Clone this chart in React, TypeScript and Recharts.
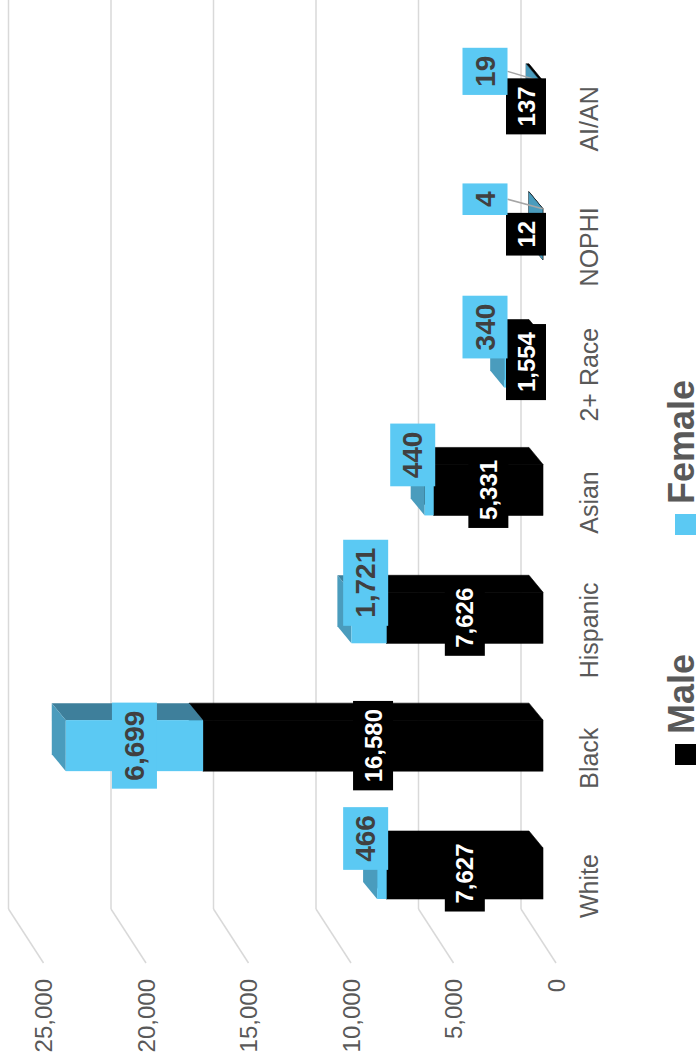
import React from 'react';
import { BarChart, Bar, XAxis, YAxis, CartesianGrid, Legend, LabelList } from 'recharts';

const categories = ['White', 'Black', 'Hispanic', 'Asian', '2+ Race', 'NOPHI', 'AI/AN'];
const maleValues = [7627, 16580, 7626, 5331, 1554, 12, 137];
const femaleValues = [466, 6699, 1721, 440, 340, 4, 19];
const valueTicks = [0, 5000, 10000, 15000, 20000, 25000];
const seriesNames = ['Male', 'Female'];

const data = categories.map((c, i) => ({ category: c, male: maleValues[i], female: femaleValues[i] }));

const W = 1063;
const H = 700;
const MARGIN = { top: 30.5, right: 42, bottom: 97, left: 66 };
const XAXIS_H = 60;
const YAXIS_W = 60;
const Y_MAX = 25000;
const PLOT_H = H - MARGIN.top - MARGIN.bottom - XAXIS_H;
const PPU = PLOT_H / Y_MAX;

const DX = 17;
const DY = 14;
const FONT = '"Liberation Sans", Arial, sans-serif';
const MALE = '#000000';
const FEMALE_FRONT = '#5BC9F3';
const FEMALE_TOP = '#4A9CBD';
const FEMALE_SIDE = '#3E7F9B';
const GRID = '#D9D9D9';
const TEXT = '#595959';
const LABEL_DARK = '#404040';

function Box3D(p: any) {
  const { x, y, width, height, front, top, side } = p;
  if (x == null || y == null) return null;
  const x2 = x + width;
  const y2 = y + height;
  const same = front === top && top === side;
  const sw = same ? 0.6 : 0;
  return (
    <g>
      <polygon points={`${x2},${y} ${x2 + DX},${y - DY} ${x2 + DX},${y2 - DY} ${x2},${y2}`} fill={side} stroke={side} strokeWidth={sw} />
      <polygon points={`${x},${y} ${x + DX},${y - DY} ${x2 + DX},${y - DY} ${x2},${y}`} fill={top} stroke={top} strokeWidth={sw} />
      <rect x={x} y={y} width={width} height={height} fill={front} stroke={front} strokeWidth={sw} />
    </g>
  );
}

const MaleShape = (p: any) => <Box3D {...p} front={MALE} top={MALE} side={MALE} />;
const FemaleShape = (p: any) => <Box3D {...p} front={FEMALE_FRONT} top={FEMALE_TOP} side={FEMALE_SIDE} />;

function textWidth(s: string, size: number) {
  let w = 0;
  for (const ch of s) w += ch === ',' ? 0.278 : 0.556;
  return w * size;
}

const fmt = (v: number) => Number(v).toLocaleString('en-US');

const renderLabels = (props: any) => {
  const vb = props.viewBox && props.viewBox.width != null ? props.viewBox : props;
  const { x, y, width, height } = vb;
  const i = props.index;
  if (x == null || i == null) return null;
  const f = femaleValues[i];
  const m = maleValues[i];
  const cx = x + width / 2;
  const maleTop = y + height;
  const base = maleTop + m * PPU;
  const maleH = m * PPU;

  // male label
  const mText = fmt(m);
  const mSize = 24;
  const mW = textWidth(mText, mSize) + 16;
  const mH = 40;
  const mCy = Math.min(maleTop + maleH / 2, base - 17);

  // female label
  const fText = fmt(f);
  const fSize = 28;
  const fW = textWidth(fText, fSize) + 16;
  const fH = 45;
  let fCy = Math.min(y + height / 2, maleTop - 21);
  fCy = Math.min(fCy, mCy - 41);
  const fCx = height >= fH ? cx : cx + 35;
  const needLeader = y - (fCy + fH / 2) > 20;

  return (
    <g key={`lbl-${i}`}>
      {needLeader && (
        <line x1={fCx} y1={fCy + fH / 2} x2={x + width} y2={y} stroke="#A6A6A6" strokeWidth={1.5} />
      )}
      <rect x={cx - mW / 2} y={mCy - mH / 2} width={mW} height={mH} fill={MALE} />
      <text x={cx} y={mCy} textAnchor="middle" dominantBaseline="central" fill="#FFFFFF" fontWeight={700} fontSize={mSize} fontFamily={FONT}>
        {mText}
      </text>
      <rect x={fCx - fW / 2} y={fCy - fH / 2} width={fW} height={fH} fill={FEMALE_FRONT} />
      <text x={fCx} y={fCy} textAnchor="middle" dominantBaseline="central" fill={LABEL_DARK} fontWeight={700} fontSize={fSize} fontFamily={FONT}>
        {fText}
      </text>
    </g>
  );
};

const renderGridLine = (props: any) => {
  const { x1, y1, index } = props;
  const yb = y1 - 22;
  const yf = y1 + 13;
  const backLeft = x1 + 28;
  const frontLeft = x1 - 26;
  return (
    <g key={`grid-${index}-${y1}`}>
      <line x1={backLeft} y1={yb} x2={W} y2={yb} stroke={GRID} strokeWidth={1.5} />
      <line x1={backLeft} y1={yb} x2={frontLeft} y2={yf} stroke={GRID} strokeWidth={1.5} />
    </g>
  );
};

const CategoryTick = (props: any) => {
  const { x, y, payload } = props;
  return (
    <text x={x - 13} y={y + 46} textAnchor="middle" dominantBaseline="central" fill={TEXT} fontSize={25} fontFamily={FONT}>
      {payload.value}
    </text>
  );
};

const ValueTick = (props: any) => {
  const { x, y, payload } = props;
  return (
    <text x={x - 42} y={y + 13} textAnchor="end" dominantBaseline="central" fill={TEXT} fontSize={24} fontFamily={FONT}>
      {fmt(payload.value)}
    </text>
  );
};

const LegendContent = () => {
  const colors = [MALE, FEMALE_FRONT];
  const starts = [0, 230];
  return (
    <div style={{ position: 'relative', width: 420, height: 40, fontFamily: FONT, fontWeight: 700, fontSize: 36, color: TEXT, lineHeight: '36px', whiteSpace: 'nowrap' }}>
      {seriesNames.map((n, i) => (
        <div key={n} style={{ position: 'absolute', left: starts[i], top: 0, height: 40 }}>
          <span style={{ position: 'absolute', left: 0, top: 15, width: 21, height: 21, background: colors[i] }} />
          <span style={{ position: 'absolute', left: 31, top: 4 }}>{n}</span>
        </div>
      ))}
    </div>
  );
};

export default function App() {
  return (
    <div style={{ position: 'absolute', left: 0, top: 0, width: 700, height: 1063, overflow: 'hidden', background: '#fff' }}>
      <div
        style={{
          position: 'absolute',
          left: 0,
          top: 0,
          width: W,
          height: H,
          transformOrigin: '0 0',
          transform: `translateY(${W}px) rotate(-90deg)`,
        }}
      >
        <BarChart width={W} height={H} data={data} margin={MARGIN} barSize={51} style={{ fontFamily: FONT }}>
          <CartesianGrid vertical={false} horizontal={renderGridLine} />
          <XAxis
            dataKey="category"
            axisLine={false}
            tickLine={false}
            tickSize={0}
            tickMargin={0}
            height={XAXIS_H}
            interval={0}
            tick={<CategoryTick />}
          />
          <YAxis
            domain={[0, Y_MAX]}
            ticks={valueTicks}
            axisLine={false}
            tickLine={false}
            tickSize={0}
            tickMargin={0}
            width={YAXIS_W}
            tick={<ValueTick />}
          />
          <Bar dataKey="male" stackId="a" name="Male" fill={MALE} shape={MaleShape} isAnimationActive={false} />
          <Bar dataKey="female" stackId="a" name="Female" fill={FEMALE_FRONT} shape={FemaleShape} isAnimationActive={false}>
            <LabelList dataKey="female" content={renderLabels} />
          </Bar>
          <Legend
            verticalAlign="middle"
            align="center"
            layout="horizontal"
            content={<LegendContent />}
            wrapperStyle={{ left: 298, top: 660, width: 420, height: 40 }}
          />
        </BarChart>
      </div>
    </div>
  );
}
